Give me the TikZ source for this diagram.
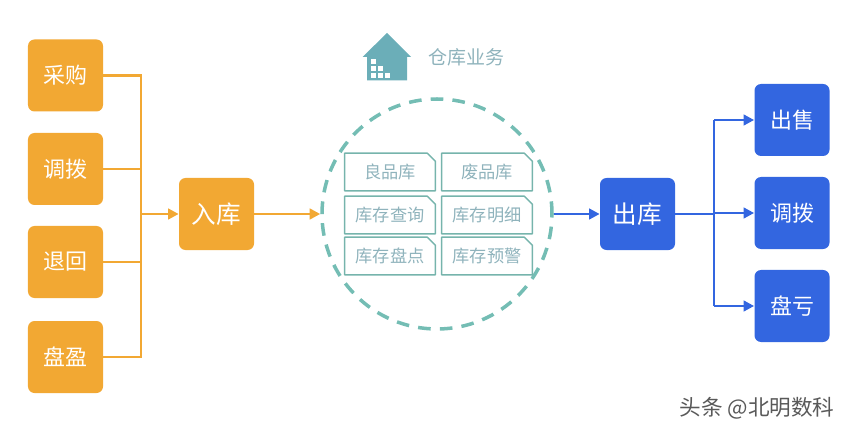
\documentclass[tikz,border=0pt]{standalone}
\usepackage{fontspec}
\setmainfont{Noto Sans CJK SC}
\usetikzlibrary{arrows.meta,calc}
\usetikzlibrary{positioning}
\definecolor{inorange}{HTML}{F2A833}
\definecolor{outblue}{HTML}{3366E0}
\definecolor{ringteal}{HTML}{74BDB4}
\definecolor{roofteal}{HTML}{6BAEB8}
\definecolor{bizgray}{HTML}{8FB3BC}
\tikzset{
  bigbox/.style={minimum width=15mm,minimum height=14.4mm,rounded corners=1.3mm,text=white,font=\fontsize{12.5}{13}\selectfont},
  inbox/.style={bigbox,fill=inorange},
  outbox/.style={bigbox,fill=outblue},
  bizbox/.style={minimum width=18mm,minimum height=7.4mm,inner sep=0pt,text=bizgray,font=\fontsize{9.8}{10}\selectfont},
  inline/.style={draw=inorange,line width=1.6pt},
  outline/.style={draw=outblue,line width=1.6pt}
}

\begin{document}
\begin{tikzpicture}[x=0.2mm,y=-0.2mm,>={Triangle[length=6pt,width=6pt]},line join=round]
\useasboundingbox (0,0) rectangle (844,428);
% --- left column, stock coming in
\node[inbox] (caigou) at (65.5,75.5) {采购};
\node[inbox] (diaobo) at (65.5,169) {调拨};
\node[inbox] (tuihui) at (65.5,262) {退回};
\node[inbox] (panying) at (65.5,357) {盘盈};
\node[inbox,font=\fontsize{14}{15}\selectfont] (ruku) at (216.5,214) {入库};
\coordinate (inbus) at (141,214);
\foreach \n in {caigou,diaobo,tuihui,panying} {\draw[inline] (\n.east) -- (\n.east -| inbus);}
\draw[inline,line cap=rect] (caigou.east -| inbus) -- (panying.east -| inbus);
% --- warehouse ring
\node[circle,draw=ringteal,line width=2pt,minimum size=46mm,inner sep=0pt,dash pattern=on 7.2pt off 5.2pt] (ring) at (437,214) {};
\foreach \n/\x/\y/\t in {liang/390/172/良品库,fei/487/172/废品库,chaxun/390/215/库存查询,mingxi/487/215/库存明细,pandian/390/256/库存盘点,yujing/487/256/库存预警} {
  \node[bizbox] (\n) at (\x,\y) {\t};
  \draw[draw=ringteal!85!gray,line width=0.8pt] (\n.north west) -- ($(\n.north east)+(-8,0)$) -- ($(\n.north east)+(0,8)$) -- (\n.south east) -- (\n.south west) -- cycle;
}
% --- house icon and title
\fill[roofteal] (387,33) -- (411,57) -- (407,57) -- (407,80.5) -- (367,80.5) -- (367,57) -- (362.5,57) -- cycle;
\foreach \x/\y in {373.3/61.7,373.3/68.5,380.6/68.5,373.3/75.5,380.6/75.5,387.8/75.5} {\fill[white] (\x-2.6,\y-2.6) rectangle (\x+2.6,\y+2.6);}
\node[text=bizgray,font=\fontsize{10.8}{11}\selectfont] (title) at (466.5,57) {仓库业务};
% --- right column, stock going out
\node[outbox,font=\fontsize{14}{15}\selectfont] (chuku) at (637.5,214) {出库};
\node[outbox] (chushou) at (792,120) {出售};
\node[outbox] (diaochu) at (792,213) {调拨};
\node[outbox] (pankui) at (792,306) {盘亏};
\coordinate (outbus) at (714,214);
\draw[outline] (chuku.east) -- (outbus);
\draw[outline] (chushou.west -| outbus) -- (pankui.west -| outbus);
\foreach \n in {chushou,diaochu,pankui} {\draw[outline,->] (\n.west -| outbus) -- (\n.west);}
% --- links through the middle
\draw[inline,->] (inbus) -- (ruku.west);
\draw[inline,->] (ruku.east) -- (ring.west);
\draw[outline,->] (ring.east) -- (chuku.west);
\node[text=black!65,font=\fontsize{12.3}{13}\selectfont] (mark) at (757,408) {头条 @北明数科};
\end{tikzpicture}
\end{document}
